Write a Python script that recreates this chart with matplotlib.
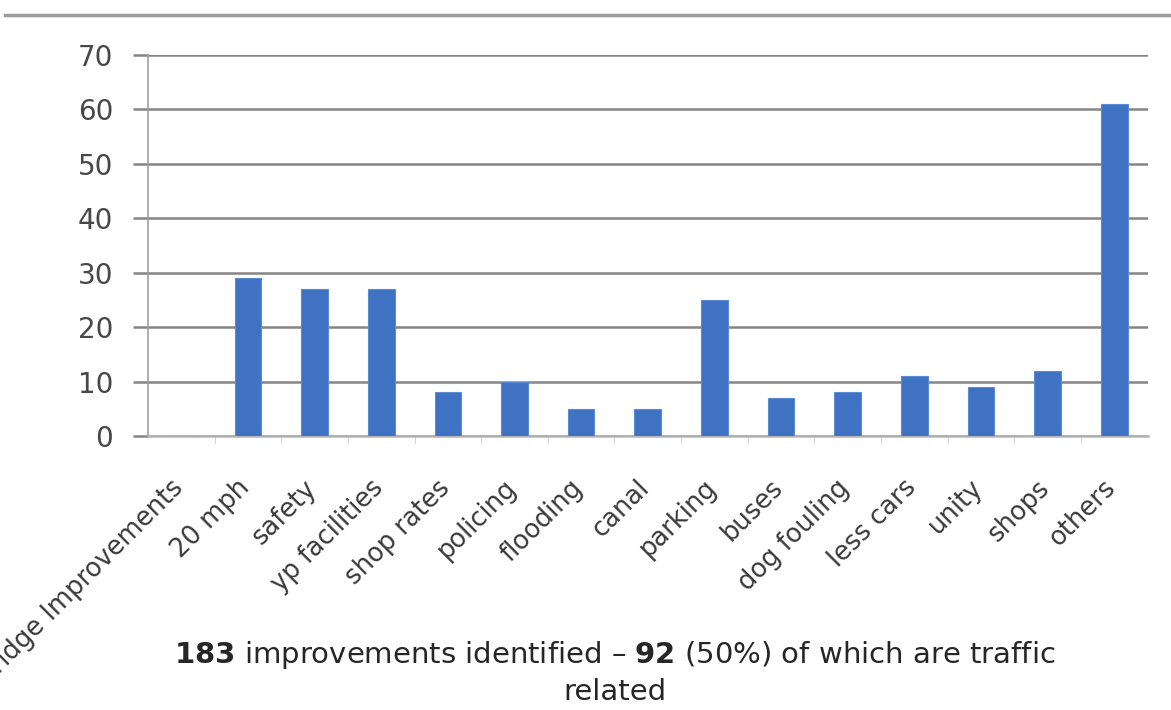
import numpy as np
import matplotlib
matplotlib.use("Agg")
import matplotlib.pyplot as plt
from matplotlib.lines import Line2D
from matplotlib.transforms import ScaledTranslation

# survey answers: suggested improvements and how many times each came up
categories = ["Bridge Improvements", "20 mph", "safety", "yp facilities",
              "shop rates", "policing", "flooding", "canal", "parking",
              "buses", "dog fouling", "less cars", "unity", "shops", "others"]
counts = [0, 29, 27, 27, 8, 10, 5, 5, 25, 7, 8, 11, 9, 12, 61]
yticks = [0, 10, 20, 30, 40, 50, 60, 70]

plt.rcParams["font.family"] = ["DejaVu Sans"]
plt.rcParams["mathtext.fontset"] = "dejavusans"

fig = plt.figure(figsize=(11.71, 7.10), dpi=100)
ax = fig.add_axes([0.1264, 0.386, 0.8536, 0.5365])

x = np.arange(len(categories))
ax.bar(x, counts, width=0.40, color="#3f72c2", edgecolor="#5b8bd5",
       linewidth=0.8, zorder=3)

ax.set_xlim(-0.5, len(categories) - 0.5)
ax.set_ylim(0, 70)
ax.set_yticks(yticks)
ax.yaxis.grid(True, color="#858585", linewidth=1.8, zorder=0)

for side in ["top", "right"]:
    ax.spines[side].set_visible(False)
ax.spines["left"].set_color("#a0a0a0")
ax.spines["left"].set_linewidth(1.2)
ax.spines["bottom"].set_color("#b4b4b4")
ax.spines["bottom"].set_linewidth(1.8)

ax.tick_params(axis="y", length=11, width=1.8, color="#858585", pad=14,
               labelsize=20, labelcolor="#474747")
ax.set_xticks(x)
ax.set_xticklabels(categories, rotation=45, ha="right",
                   rotation_mode="anchor", fontsize=18.5, color="#3a3a3a")
ax.tick_params(axis="x", which="major", length=0, pad=28)
ax.set_xticks(x[:-1] + 0.5, minor=True)
ax.tick_params(axis="x", which="minor", length=6, color="#cccccc")

# nudge the slanted labels a little to the left of their ticks
nudge = ScaledTranslation(-8 / 72, 0, fig.dpi_scale_trans)
for lbl in ax.get_xticklabels():
    lbl.set_transform(lbl.get_transform() + nudge)

# thin frame line across the top of the page
fig.add_artist(Line2D([0.004, 1], [0.979, 0.979], color="#9c9c9c",
                      linewidth=2.5, transform=fig.transFigure))

fig.text(0.525, 0.006,
         "$\\mathbf{183}$ improvements identified \u2013 $\\mathbf{92}$ (50%) "
         "of which are traffic\nrelated",
         ha="center", va="bottom", fontsize=21, color="#262626",
         linespacing=1.3)

fig.savefig("out.png", dpi=100)
